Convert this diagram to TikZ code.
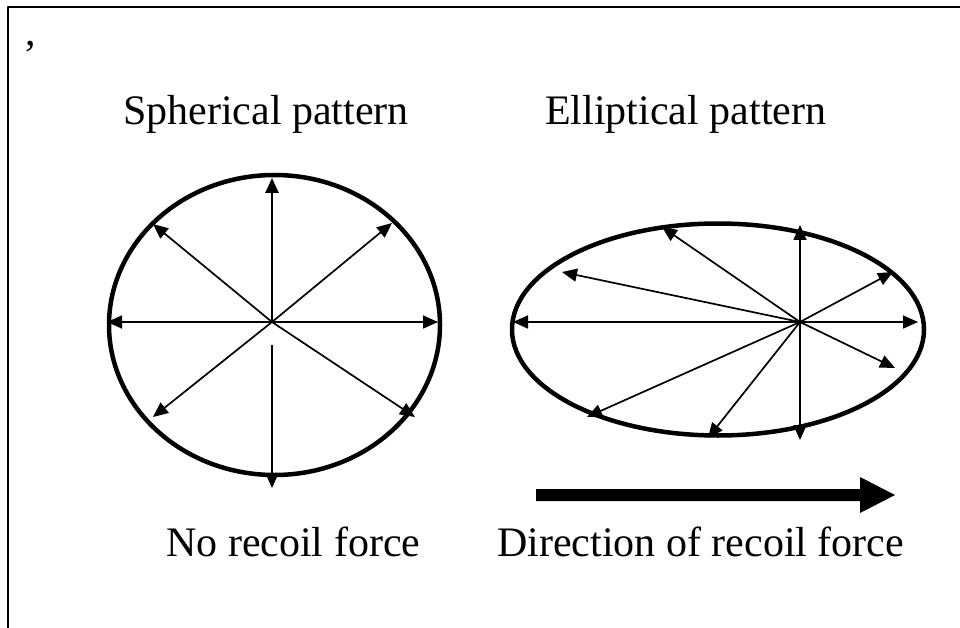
\documentclass[tikz,border=0pt]{standalone}
\usepackage{fontspec}
\setmainfont{Liberation Serif}
\usetikzlibrary{arrows.meta}
\begin{document}
\begin{tikzpicture}[x=1pt,y=-1pt,line join=round,
		ray/.style={line width=1.7pt,-{Triangle[length=15pt,width=13pt]}},
		rim/.style={line width=4.5pt},
		lbl/.style={anchor=base west,inner sep=0pt,font=\fontsize{42}{50}\selectfont}]
	\useasboundingbox (0,0) rectangle (960,628);
	% frame
	\draw[line width=2pt] (8,628) -- (8,7) -- (960,7);
	\node[lbl] (tick) at (25,46) {,};
	% titles
	\node[lbl] (tsph) at (123,125) {Spherical pattern};
	\node[lbl] (tell) at (545,125) {Elliptical pattern};
	
	% spherical pattern
	\coordinate (sc) at (272,322);
	\coordinate (sgap) at (272,345);
	\draw[rim] (274.5,325) ellipse [x radius=165.5,y radius=150];
	\draw[ray,line width=2.6pt] (sc) -- (272,178);
	\foreach \tx/\ty in {107/322,438/322,153/224,392/223,153/417,415/417}{
		\draw[ray] (sc) -- (\tx,\ty);
	}
	\draw[ray] (sgap) -- (272,488);
	
	% elliptical pattern
	\coordinate (ec) at (800,322);
	\draw[rim] (718,329.5) ellipse [x radius=206,y radius=106];
	\foreach \tx/\ty in {513/322,918/322,800/225,800/440,662/227,562/272,893/272,895/368,587/417,708/438}{
		\draw[ray] (ec) -- (\tx,\ty);
	}
	
	% recoil
	\fill (536,489) -- (860,489) -- (860,477) -- (895,495) -- (860,513) -- (860,501) -- (536,501) -- cycle;
	\node[lbl] (tno) at (166,556) {No recoil force};
	\node[lbl] (tdir) at (497,556) {Direction of recoil force};
\end{tikzpicture}
\end{document}
